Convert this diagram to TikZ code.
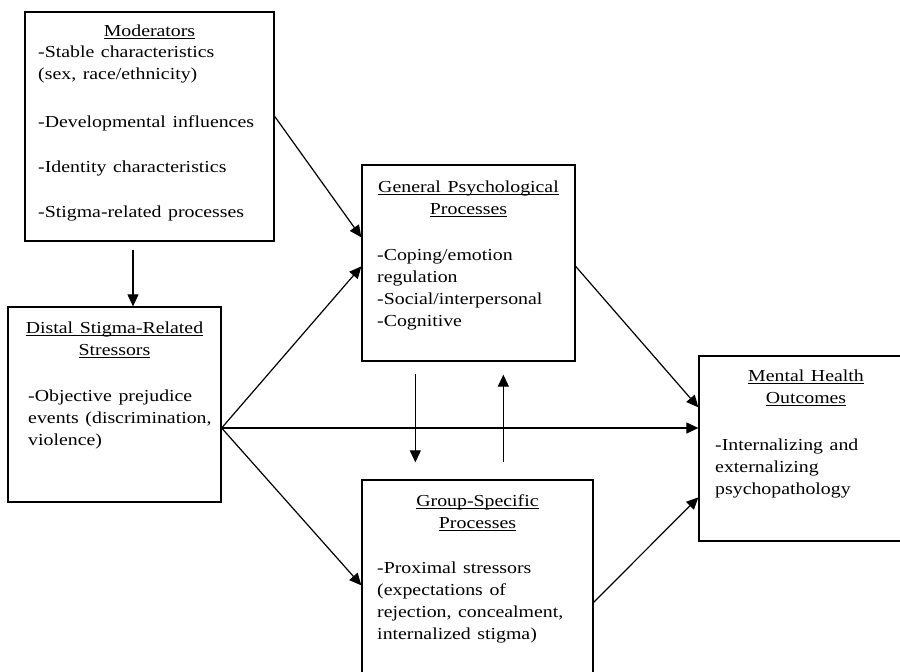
\documentclass[tikz,border=0pt]{standalone}
\usepackage{fontspec}
\setmainfont{Liberation Serif}
\usepackage{tikz}
\usetikzlibrary{arrows.meta}
\tikzstyle{box} = [draw, line width=1.3pt, inner sep=0pt]
\tikzstyle{hd} = [text width=200pt, align=center, anchor=base, inner sep=0pt, xscale=1.18, font=\fontsize{16.8}{22}\selectfont]
\tikzstyle{body} = [text width=200pt, align=left, anchor=base west, inner sep=0pt, xscale=1.18, font=\fontsize{16.8}{22}\selectfont]
\tikzstyle{arr} = [line width=1.2pt, -{Triangle[length=12pt,width=11pt]}]
\newcommand{\hdline}[1]{\underline{\smash{#1}}}

\begin{document}
\begin{tikzpicture}[x=1pt,y=-1pt]
  \useasboundingbox (0,0) rectangle (900,672);
  \clip (0,0) rectangle (900,672);
  \def\modc{149.5,126.5}
  \def\disc{114.5,404.5}
  \def\genc{468.5,263}
  \def\grpc{477.5,585}
  \def\mhoc{806,448.5}
  \node[box, minimum width=249pt, minimum height=229pt] (mod) at (\modc) {};
  \node[box, minimum width=213pt, minimum height=195pt] (dis) at (\disc) {};
  \node[box, minimum width=213pt, minimum height=196pt] (gen) at (\genc) {};
  \node[box, minimum width=231pt, minimum height=210pt] (grp) at (\grpc) {};
  \node[box, minimum width=214pt, minimum height=185pt] (mho) at (\mhoc) {};
  % titles
  \node[hd] (modhd) at (149.5,36.7) {\hdline{Moderators}};
  \node[hd] (dishd) at (114.5,333.3) {\hdline{Distal Stigma-Related}\\ \hdline{Stressors}};
  \node[hd] (genhd) at (468.5,192.3) {\hdline{General Psychological}\\ \hdline{Processes}};
  \node[hd] (grphd) at (477.5,506.7) {\hdline{Group-Specific}\\ \hdline{Processes}};
  \node[hd] (mhohd) at (806,381.7) {\hdline{Mental Health}\\ \hdline{Outcomes}};
  % lists
  \node[body] (modtxt) at (38,57.7) {-Stable characteristics\\ (sex, race/ethnicity)\\[26pt] -Developmental influences\\[23pt] -Identity characteristics\\[23pt] -Stigma-related processes};
  \node[body] (distxt) at (28,401.7) {-Objective prejudice\\ events (discrimination,\\ violence)};
  \node[body] (gentxt) at (377,260) {-Coping/emotion\\ regulation\\ -Social/interpersonal\\ -Cognitive};
  \node[body] (grptxt) at (377,573.3) {-Proximal stressors\\ (expectations of\\ rejection, concealment,\\ internalized stigma)};
  \node[body] (mhotxt) at (715,450) {-Internalizing and\\ externalizing\\ psychopathology};
  % paths
  \coordinate (m) at ([xshift=-16.5pt,yshift=-8pt]mod.south);
  \coordinate (d) at ([yshift=-23.5pt]dis.east);
  \draw[arr] ([yshift=-105pt]mod.north east) -- ([yshift=-73pt]gen.north west);
  \draw[arr] (m) -- (m |- dis.north);
  \draw[arr] (d) -- ([yshift=-102pt]gen.north west);
  \draw[arr] (d) -- (d -| mho.west);
  \draw[arr] (d) -- ([yshift=-106pt]grp.north west);
  \draw[arr] ([xshift=54pt,yshift=-12pt]gen.south west) -- ([xshift=54pt,yshift=17pt]grp.north west);
  \draw[arr] ([xshift=142pt,yshift=17pt]grp.north west) -- ([xshift=142pt,yshift=-13pt]gen.south west);
  \draw[arr] ([yshift=-102pt]gen.north east) -- ([yshift=-52pt]mho.north west);
  \draw[arr] ([yshift=-123pt]grp.north east) -- ([yshift=-142pt]mho.north west);
\end{tikzpicture}
\end{document}
